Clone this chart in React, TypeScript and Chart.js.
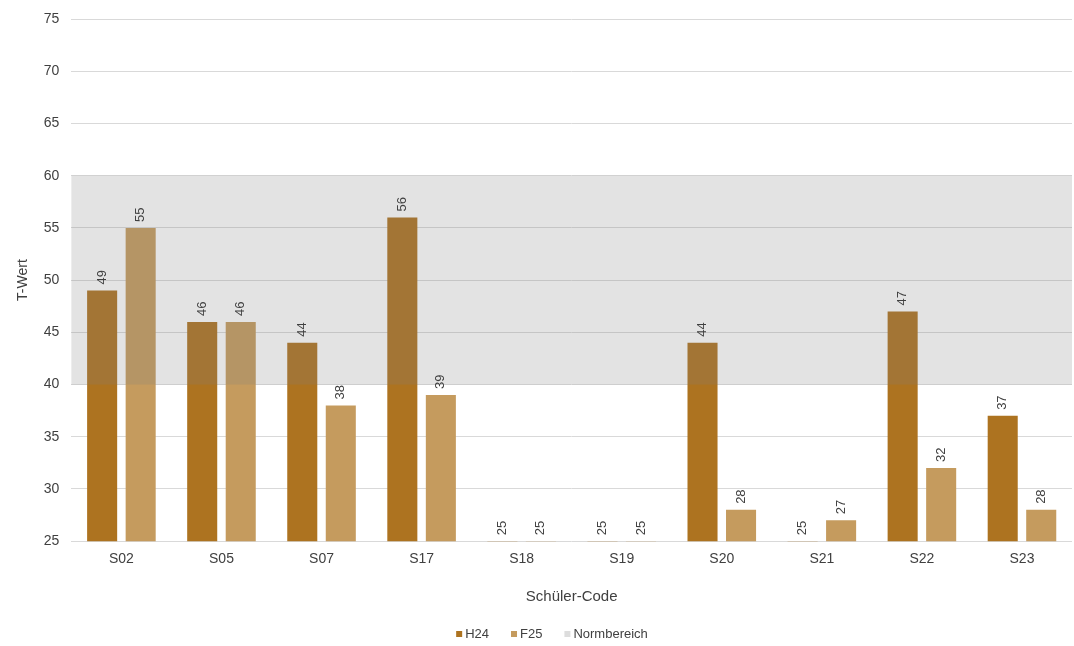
import React, { useEffect, useRef } from "react";
import { Chart, registerables } from "chart.js";

Chart.register(...registerables);

const categories = ["S02", "S05", "S07", "S17", "S18", "S19", "S20", "S21", "S22", "S23"];
const h24Values = [49, 46, 44, 56, 25, 25, 44, 25, 47, 37];
const f25Values = [55, 46, 38, 39, 25, 25, 28, 27, 32, 28];
const normRange = [40, 60];
const yTicks = { min: 25, max: 75, step: 5 };
const legendLabels = ["H24", "F25", "Normbereich"];

const H24_COLOR = "#AD7320";
const F25_COLOR = "#C59B5E";
const BAND_COLOR = "rgba(128,128,128,0.22)";
const BAND_LEGEND = "#DDDDDD";
const TEXT = "#404040";
const FONT = "'Liberation Sans', Arial, sans-serif";
const legendColors = [H24_COLOR, F25_COLOR, BAND_LEGEND];

const overlayPlugin = {
  id: "overlay",
  afterDatasetsDraw(chart: any) {
    const { ctx, chartArea, scales } = chart;
    const y = scales.y;
    const top = y.getPixelForValue(normRange[1]);
    const bottom = y.getPixelForValue(normRange[0]);
    ctx.save();
    ctx.fillStyle = BAND_COLOR;
    ctx.fillRect(chartArea.left, top, chartArea.right - chartArea.left, bottom - top);
    ctx.restore();

    ctx.save();
    ctx.fillStyle = TEXT;
    ctx.font = `13px ${FONT}`;
    ctx.textAlign = "left";
    ctx.textBaseline = "middle";
    chart.data.datasets.forEach((ds: any, di: number) => {
      const meta = chart.getDatasetMeta(di);
      meta.data.forEach((el: any, i: number) => {
        const v = ds.data[i];
        ctx.save();
        ctx.translate(el.x, el.y - 6);
        ctx.rotate(-Math.PI / 2);
        ctx.fillText(String(v), 0, 0);
        ctx.restore();
      });
    });
    ctx.restore();
  },
  afterDraw(chart: any) {
    const { ctx, width, height } = chart;
    const box = 6;
    const gap = 3;
    const itemGap = 22;
    ctx.save();
    ctx.font = `13px ${FONT}`;
    ctx.textBaseline = "middle";
    ctx.textAlign = "left";
    const widths = legendLabels.map((t) => box + gap + ctx.measureText(t).width);
    const total = widths.reduce((a, b) => a + b, 0) + itemGap * (legendLabels.length - 1);
    let x = (width - total) / 2 + 15;
    const cy = height - 12;
    legendLabels.forEach((t, i) => {
      ctx.fillStyle = legendColors[i];
      ctx.fillRect(x, cy - box / 2, box, box);
      ctx.fillStyle = TEXT;
      ctx.fillText(t, x + box + gap, cy);
      x += widths[i] + itemGap;
    });
    ctx.restore();
  },
};

export default function App() {
  const ref = useRef<HTMLCanvasElement | null>(null);
  useEffect(() => {
    if (!ref.current) return;
    const chart = new Chart(ref.current, {
      type: "bar",
      data: {
        labels: categories,
        datasets: [
          { label: "H24", data: h24Values, backgroundColor: H24_COLOR, categoryPercentage: 0.77, barPercentage: 0.78 },
          { label: "F25", data: f25Values, backgroundColor: F25_COLOR, categoryPercentage: 0.77, barPercentage: 0.78 },
        ],
      },
      options: {
        animation: false,
        responsive: false,
        maintainAspectRatio: false,
        layout: { padding: { top: 0, right: 2, left: 11, bottom: 40 } },
        scales: {
          x: {
            grid: { display: false },
            border: { display: false },
            ticks: { color: TEXT, font: { size: 14, family: FONT }, padding: 2 },
            title: { display: true, text: "Schüler-Code", color: TEXT, font: { size: 15, family: FONT }, padding: { top: 18, bottom: 0 } },
          },
          y: {
            min: yTicks.min,
            max: yTicks.max,
            ticks: { stepSize: yTicks.step, color: TEXT, font: { size: 14, family: FONT, lineHeight: 1 }, padding: 12 },
            grid: { color: "#D9D9D9", drawTicks: false },
            border: { display: false },
            title: { display: true, text: "T-Wert", color: TEXT, font: { size: 14, family: FONT }, padding: { bottom: 0 } },
          },
        },
        plugins: {
          tooltip: { enabled: false },
          legend: { display: false },
        },
      },
      plugins: [overlayPlugin],
    });
    return () => chart.destroy();
  }, []);
  return (
    <div style={{ position: "fixed", left: 0, top: 0, width: 1074, height: 646, background: "#fff" }}>
      <canvas ref={ref} width={1074} height={646} />
    </div>
  );
}
